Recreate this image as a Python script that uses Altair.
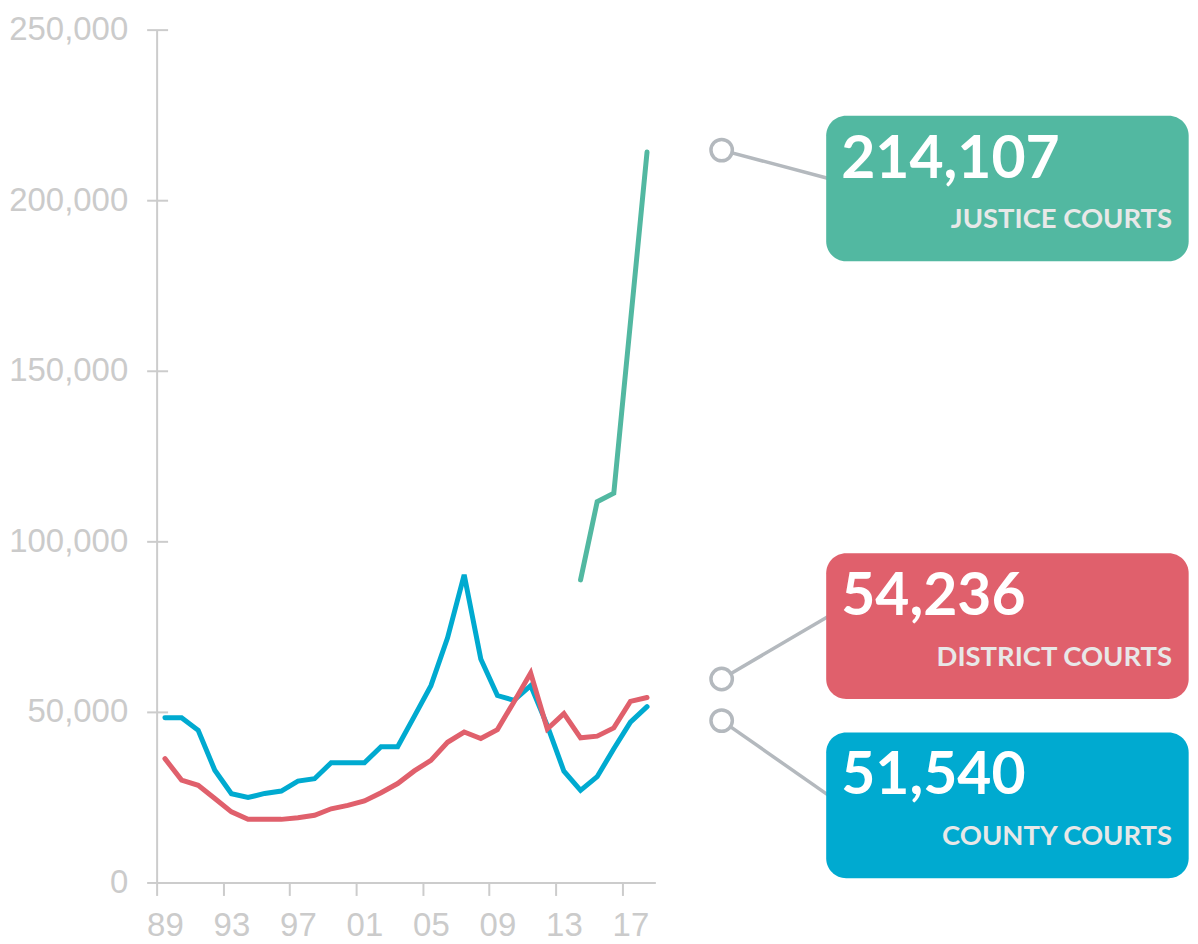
import altair as alt
import pandas as pd

# ---------------- data ----------------
years = list(range(1989, 2019))
county = [48300, 48300, 44600, 32900, 26000, 24900, 26100, 26800, 29700, 30400,
          35100, 35100, 35100, 39800, 39800, 48700, 57700, 71700, 90200, 65500,
          54800, 53400, 57700, 46000, 32600, 27000, 31000, 39200, 47000, 51540]
district = [36300, 30000, 28500, 24600, 20700, 18500, 18500, 18500, 19000, 19700,
            21600, 22600, 23900, 26300, 29000, 32700, 35800, 41100, 44100, 42200,
            44800, 53000, 61400, 45000, 49500, 42400, 42900, 45300, 53100, 54236]
justice_years = [2014, 2015, 2016, 2018]
justice = [88700, 111600, 114100, 214107]

series_names = ["Justice Courts", "District Courts", "County Courts"]
series_colors = ["#52b8a1", "#e0606c", "#00aad0"]

rows = []
for yr, v in zip(years, county):
    rows.append({"year": yr, "value": v, "series": "County Courts"})
for yr, v in zip(years, district):
    rows.append({"year": yr, "value": v, "series": "District Courts"})
for yr, v in zip(justice_years, justice):
    rows.append({"year": yr, "value": v, "series": "Justice Courts"})
df = pd.DataFrame(rows)

last_year = years[-1]
last_values = {"Justice Courts": justice[-1], "District Courts": district[-1], "County Courts": county[-1]}

# label placement styling (pixel offsets relative to the last data point)
label_style = {
    "Justice Courts": {"circle_dy": -2, "box_dy": -36.5},
    "District Courts": {"circle_dy": -18.5, "box_dy": -144.5},
    "County Courts": {"circle_dy": 14, "box_dy": 26},
}

GRAY = "#cccccc"
CONNECT = "#b4b9be"

X_SCALE = alt.Scale(domain=[1988.5, 2018.5], nice=False, zero=False)
Y_SCALE = alt.Scale(domain=[0, 250000], nice=False, zero=True)

x_axis = alt.Axis(
    values=[1988.5 + 4 * i for i in range(8)],
    labelExpr="slice(toString(datum.value + 0.5), 2)",
    labelOffset=8.3, tickSize=13, labelPadding=14, labelFlush=False,
    labelOverlap=False, grid=False, title=None, labelBaseline="top",
)
x_enc = alt.X("year:Q", scale=X_SCALE, axis=x_axis)

y_axis_ticks = alt.Axis(
    orient="left", values=[0, 50000, 100000, 150000, 200000, 250000],
    format=",d", domain=False, tickSize=21, offset=-11, labelPadding=19,
    grid=False, title=None, labelFlush=False, labelOverlap=False,
)
y_axis_line = alt.Axis(orient="left", domain=True, ticks=False, labels=False,
                       grid=False, title=None)

lines = alt.Chart(df).mark_line(strokeWidth=5, strokeCap="round").encode(
    x=x_enc,
    y=alt.Y("value:Q", scale=Y_SCALE, axis=y_axis_ticks),
    color=alt.Color("series:N", scale=alt.Scale(domain=series_names, range=series_colors), legend=None),
)

axis_layer = alt.Chart(df).mark_line(opacity=0).encode(
    x=x_enc,
    y=alt.Y("value:Q", scale=Y_SCALE, axis=y_axis_line),
    detail="series:N",
)

ann_layers = []
for name, color in zip(series_names, series_colors):
    v = last_values[name]
    st = label_style[name]
    cdy, bdy = st["circle_dy"], st["box_dy"]
    adf = pd.DataFrame([{"year": last_year, "value": v, "num": f"{v:,}", "name": name.upper()}])
    base = alt.Chart(adf)
    y_enc = alt.Y("value:Q", scale=Y_SCALE, axis=None)
    connector = base.mark_rule(color=CONNECT, strokeWidth=3.5,
                               xOffset=74.8, x2Offset=182,
                               yOffset=cdy, y2Offset=bdy + 63).encode(
        x=x_enc, x2=alt.X2("year"), y=y_enc, y2=alt.Y2("value"))
    circle = base.mark_point(shape="circle", size=460, filled=True, fill="white",
                             stroke=CONNECT, strokeWidth=3.5, opacity=1,
                             xOffset=74.8, yOffset=cdy).encode(x=x_enc, y=y_enc)
    box = base.mark_rect(cornerRadius=20, color=color,
                         xOffset=179.6, x2Offset=543,
                         yOffset=bdy, y2Offset=bdy + 146).encode(
        x=x_enc, x2=alt.X2("year"), y=y_enc, y2=alt.Y2("value"))
    num = base.mark_text(align="left", baseline="alphabetic", font="Lato",
                         fontWeight="bold", fontSize=59, color="white",
                         dx=194.6, dy=bdy + 62).encode(x=x_enc, y=y_enc, text="num:N")
    sub = base.mark_text(align="right", baseline="alphabetic", font="Lato",
                         fontWeight="bold", fontSize=27.5, color="#e8e8e8",
                         dx=526.3, dy=bdy + 113).encode(x=x_enc, y=y_enc, text="name:N")
    ann_layers += [connector, circle, box, num, sub]

chart = alt.layer(lines, axis_layer, *ann_layers).resolve_axis(
    y="independent"
).properties(
    width=500, height=855,
    autosize=alt.AutoSizeParams(type="none"),
    padding={"left": 149, "top": 20.5, "right": 536, "bottom": 60},
).configure_view(stroke=None).configure_axis(
    labelFont="Liberation Sans", labelFontSize=33, labelColor="#cbcbcb",
    domainColor=GRAY, tickColor=GRAY, domainWidth=2, tickWidth=2,
)

chart.save("out.html", embed_options={"renderer": "svg", "actions": False})
